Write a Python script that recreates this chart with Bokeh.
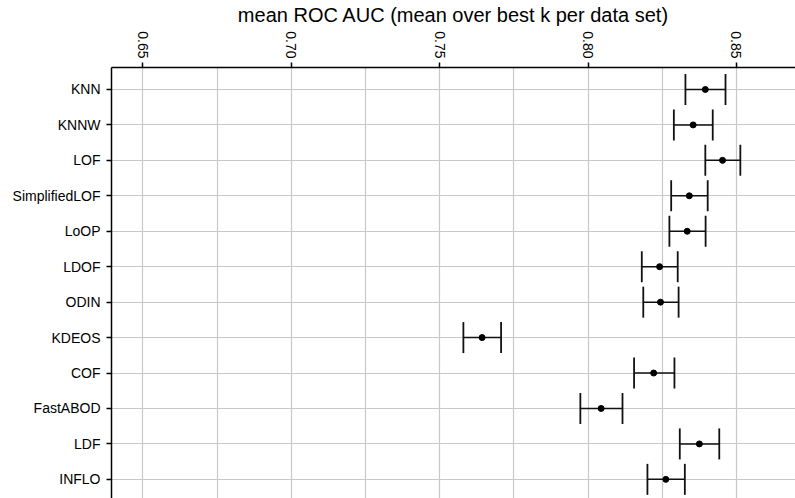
import math
from bokeh.plotting import figure
from bokeh.models import Range1d, FixedTicker, ColumnDataSource, Whisker, TeeHead
from bokeh.embed import file_html
from bokeh.resources import INLINE

methods = ["KNN", "KNNW", "LOF", "SimplifiedLOF", "LoOP", "LDOF", "ODIN",
           "KDEOS", "COF", "FastABOD", "LDF", "INFLO"]
mean_auc = [0.8395, 0.8354, 0.8453, 0.8341, 0.8334, 0.8241, 0.8244,
            0.7643, 0.8221, 0.8044, 0.8375, 0.8262]
lower = [0.8328, 0.8289, 0.8395, 0.8280, 0.8274, 0.8181, 0.8186,
         0.7580, 0.8155, 0.7974, 0.8309, 0.8200]
upper = [0.8463, 0.8420, 0.8513, 0.8403, 0.8396, 0.8302, 0.8305,
         0.7707, 0.8291, 0.8116, 0.8442, 0.8326]
x_ticks = [0.65, 0.70, 0.75, 0.80, 0.85]
x_minor = [0.675, 0.725, 0.775, 0.825]
title_text = "mean ROC AUC (mean over best k per data set)"

pos = list(range(len(methods)))
src = ColumnDataSource(dict(y=pos, m=mean_auc, lo=lower, hi=upper, name=methods))

FONT = "Liberation Sans"
GRID = "#c8c8c8"

p = figure(width=795, height=498, output_backend="svg", toolbar_location=None,
           x_axis_location="above",
           x_range=Range1d(0.63946, 0.86988),
           y_range=Range1d(11.54, -0.62),
           min_border_left=111, min_border_top=67,
           min_border_right=0, min_border_bottom=0)
p.outline_line_color = None
p.background_fill_color = "white"
p.border_fill_color = "white"

# x axis (top)
xa = p.xaxis[0]
xa.ticker = FixedTicker(ticks=x_ticks, minor_ticks=x_minor)
xa.major_label_overrides = {t: f"{t:.2f}" for t in x_ticks}
xa.major_label_orientation = -math.pi / 2
xa.major_tick_out = 5
xa.major_tick_in = 0
xa.minor_tick_out = 0
xa.minor_tick_in = 0
xa.major_label_standoff = 4
xa.major_label_text_font = FONT
xa.major_label_text_font_size = "14px"
xa.major_label_text_color = "black"
xa.axis_line_color = "black"
xa.axis_line_width = 1.5
xa.major_tick_line_color = "black"
xa.major_tick_line_width = 1.5
xa.axis_label = title_text
xa.axis_label_text_font = FONT
xa.axis_label_text_font_size = "20px"
xa.axis_label_text_font_style = "normal"
xa.axis_label_text_color = "black"
xa.axis_label_standoff = 2

# y axis (left)
ya = p.yaxis[0]
ya.ticker = FixedTicker(ticks=pos, minor_ticks=[])
ya.major_label_overrides = {i: n for i, n in zip(pos, methods)}
ya.major_tick_out = 5
ya.major_tick_in = 0
ya.minor_tick_out = 0
ya.minor_tick_in = 0
ya.major_label_standoff = 6
ya.major_label_text_font = FONT
ya.major_label_text_font_size = "14px"
ya.major_label_text_color = "black"
ya.axis_line_color = "black"
ya.axis_line_width = 1.5
ya.major_tick_line_color = "black"
ya.major_tick_line_width = 1.5

# grids
p.xgrid.grid_line_color = GRID
p.xgrid.grid_line_width = 1.2
p.xgrid.minor_grid_line_color = GRID
p.xgrid.minor_grid_line_width = 1.2
p.ygrid.grid_line_color = GRID
p.ygrid.grid_line_width = 1.2

# error bars
w = Whisker(source=src, base="y", lower="lo", upper="hi", dimension="width",
            line_color="#111111", line_width=1.5,
            lower_head=TeeHead(size=31, line_color="#111111", line_width=1.8),
            upper_head=TeeHead(size=31, line_color="#111111", line_width=1.8))
p.add_layout(w)
p.scatter(x="m", y="y", source=src, size=6, color="black")

open("out.html", "w").write(file_html(p, INLINE))
